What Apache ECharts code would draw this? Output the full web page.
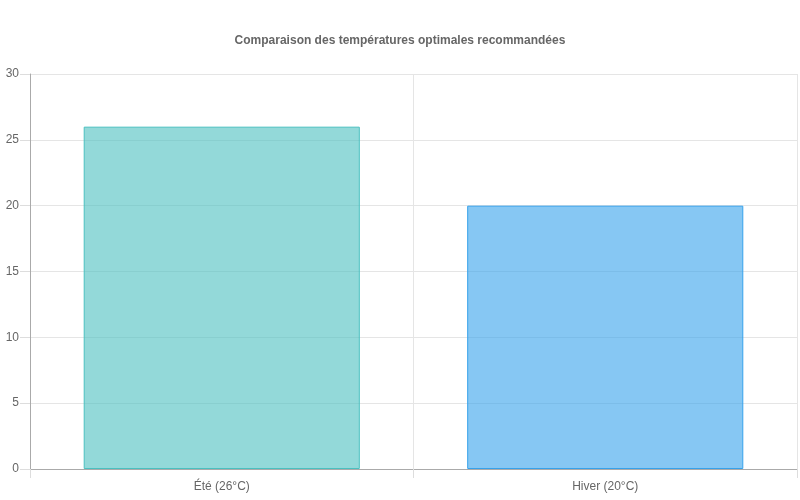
<!DOCTYPE html>
<html>
<head>
<meta charset="utf-8">
<script src="https://cdn.jsdelivr.net/npm/echarts@6/dist/echarts.min.js"></script>
<style>
html,body{margin:0;padding:0;background:#fff;}
#chart{width:800px;height:500px;}
</style>
</head>
<body>
<div id="chart"></div>
<script>
var categories = ['Été (26°C)', 'Hiver (20°C)'];
var temperatures = [26, 20];
var fillColors = ['rgba(75,192,192,0.6)', 'rgba(54,162,235,0.6)'];
var borderColors = ['rgb(75,192,192)', 'rgb(54,162,235)'];

var barData = [];
for (var i = 0; i < temperatures.length; i++) {
	barData.push({
		value: temperatures[i],
		itemStyle: {
			color: fillColors[i],
			borderColor: borderColors[i],
			borderWidth: 1
		}
	});
}

var font = '"Liberation Sans", Arial, Helvetica, sans-serif';
var option = {
	animation: false,
	title: {
		text: 'Comparaison des températures optimales recommandées',
		left: 'center',
		top: 30,
		textStyle: {
			fontFamily: font,
			fontSize: 12,
			fontWeight: 'bold',
			color: '#666'
		}
	},
	grid: {
		left: 30,
		right: 3,
		top: 74,
		bottom: 31,
		containLabel: false
	},
	xAxis: {
		type: 'category',
		data: categories,
		boundaryGap: true,
		axisLine: { lineStyle: { color: '#aaa' } },
		axisTick: { show: true, alignWithLabel: false, length: 9, lineStyle: { color: '#ddd' } },
		axisLabel: { fontFamily: font, fontSize: 12, color: '#666', margin: 12 },
		splitLine: { show: true, lineStyle: { color: '#e5e5e5' } }
	},
	yAxis: {
		type: 'value',
		min: 0,
		max: 30,
		interval: 5,
		axisLine: { show: true, lineStyle: { color: '#aaa' } },
		axisTick: { show: true, length: 10, lineStyle: { color: '#ddd' } },
		axisLabel: { fontFamily: font, fontSize: 12, color: '#666', margin: 11 },
		splitLine: { show: true, lineStyle: { color: '#e5e5e5' } }
	},
	series: [{
		type: 'bar',
		data: barData,
		barWidth: '72%'
	}]
};

var myChart = echarts.init(document.getElementById('chart'));
myChart.setOption(option);
</script>
</body>
</html>
